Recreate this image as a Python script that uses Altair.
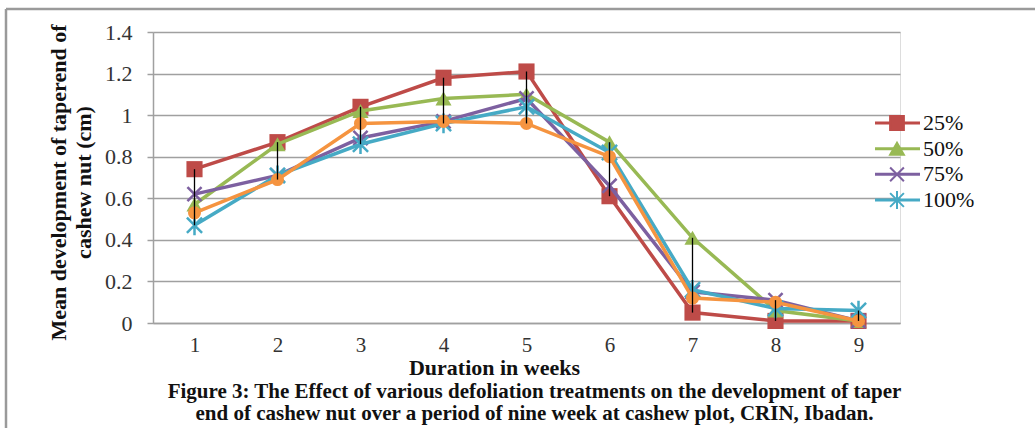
import altair as alt
import pandas as pd

weeks = [1, 2, 3, 4, 5, 6, 7, 8, 9]
series_names = ["25%", "50%", "75%", "100%", "0%"]
legend_names = ["25%", "50%", "75%", "100%"]
values_25 = [0.74, 0.87, 1.04, 1.18, 1.21, 0.61, 0.05, 0.01, 0.01]
values_50 = [0.57, 0.86, 1.02, 1.08, 1.10, 0.87, 0.41, 0.06, 0.01]
values_75 = [0.62, 0.71, 0.89, 0.97, 1.08, 0.66, 0.15, 0.11, 0.01]
values_100 = [0.47, 0.71, 0.86, 0.96, 1.04, 0.82, 0.16, 0.07, 0.06]
values_0 = [0.53, 0.69, 0.96, 0.97, 0.96, 0.80, 0.12, 0.10, 0.01]
series_values = [values_25, values_50, values_75, values_100, values_0]
y_ticks = [0, 0.2, 0.4, 0.6, 0.8, 1, 1.2, 1.4]

colors = ["#BE4B48", "#98B954", "#7D60A0", "#46AAC5", "#F59440"]
shapes = ["square", "triangle-up", "M-1,-1L1,1M-1,1L1,-1",
          "M-1,-1L1,1M-1,1L1,-1M0,-1.3L0,1.3", "circle"]
filled = [True, True, False, False, True]
sizes = [260, 260, 200, 230, 170]

rows = []
for name, vals in zip(series_names, series_values):
    for w, v in zip(weeks, vals):
        rows.append({"series": name, "week": w, "value": v})
df = pd.DataFrame(rows)

serif = "Liberation Serif"

x_enc = alt.X(
    "week:O",
    scale=alt.Scale(type="point", padding=0.5),
    axis=alt.Axis(
        title="Duration in weeks", labelAngle=0, ticks=False, grid=False,
        domainColor="#A0A0A0", domainWidth=1.5,
        labelFont=serif, labelFontSize=21, labelColor="#333333", labelPadding=11,
        titleFont=serif, titleFontSize=22, titleFontWeight="bold", titleColor="#111111",
        titleX=341, titleY=44, titleBaseline="middle", titleAnchor="start", titleAlign="center",
    ),
)
y_enc = alt.Y(
    "value:Q",
    scale=alt.Scale(domain=[0, 1.4]),
    axis=alt.Axis(
        title=["Mean development of taperend of", "cashew  nut (cm)"],
        values=y_ticks, format="~g",
        grid=True, gridColor="#A0A0A0", gridWidth=1.5,
        domainColor="#A0A0A0", domainWidth=1.5,
        ticks=True, tickSize=6, tickColor="#A0A0A0", tickWidth=1.5,
        labelFont=serif, labelFontSize=22, labelColor="#333333", labelPadding=15,
        titleFont=serif, titleFontSize=22, titleFontWeight="bold", titleColor="#111111",
        titleLineHeight=25, titleAngle=-90, titleX=-88, titleY=150,
        titleAlign="center", titleBaseline="alphabetic",
    ),
)

main_layers = []
for i, name in enumerate(series_names):
    sub = df[df["series"] == name]
    base = alt.Chart(sub)
    main_layers.append(
        base.mark_line(color=colors[i], strokeWidth=3.5).encode(x=x_enc, y=y_enc)
    )
    if filled[i]:
        pt = base.mark_point(shape=shapes[i], filled=True, color=colors[i],
                             size=sizes[i], opacity=1)
    else:
        pt = base.mark_point(shape=shapes[i], filled=False, color=colors[i],
                             size=sizes[i], strokeWidth=2.5, opacity=1)
    main_layers.append(pt.encode(x=x_enc, y=y_enc))

hilo = alt.Chart(df).mark_rule(color="black", strokeWidth=1.3).encode(
    x=x_enc, y=alt.Y("max(value):Q"), y2=alt.Y2("min(value)")
)
main_layers.append(hilo)

frame_df = pd.DataFrame({"k": [0]})
frame_top = alt.Chart(frame_df).mark_rule(color="#9A9A9A", strokeWidth=2.5).encode(
    x=alt.value(-147), x2=alt.value(882), y=alt.value(-23)
)
frame_left = alt.Chart(frame_df).mark_rule(color="#9A9A9A", strokeWidth=2.5).encode(
    x=alt.value(-147), y=alt.value(-23), y2=alt.value(396)
)
main_layers += [frame_top, frame_left]

main = alt.layer(*main_layers)

legend_df = pd.DataFrame({"series": legend_names})
ly = alt.Y("series:N", scale=alt.Scale(type="point", domain=legend_names,
                                        range=[91, 168], padding=0), axis=None)
lcolor = alt.Scale(domain=legend_names, range=colors[:4])
leg_line = alt.Chart(legend_df).mark_rule(strokeWidth=3).encode(
    x=alt.value(722), x2=alt.value(767), y=ly,
    color=alt.Color("series:N", scale=lcolor, legend=None),
)
leg_pts = alt.Chart(legend_df).mark_point(filled=True, strokeWidth=2, size=190, opacity=1).encode(
    x=alt.value(744), y=ly,
    fill=alt.Fill("series:N", scale=lcolor, legend=None),
    stroke=alt.Stroke("series:N", scale=lcolor, legend=None),
    shape=alt.Shape("series:N", scale=alt.Scale(domain=legend_names, range=shapes[:4]), legend=None),
)
leg_text = alt.Chart(legend_df).mark_text(
    align="left", baseline="middle", font=serif, fontSize=22, color="#111111"
).encode(x=alt.value(770), y=ly, text="series:N")
legend = alt.layer(leg_line, leg_pts, leg_text)

chart = alt.layer(main, legend).resolve_scale(y="independent").properties(
    width=747, height=291,
    padding={"left": 153, "top": 32, "right": 135, "bottom": 105},
    autosize=alt.AutoSizeParams(type="none"),
    title=alt.TitleParams(
        text=["Figure  3: The Effect of various defoliation treatments on the development of taper",
              "end of cashew nut over a period of nine week  at cashew plot, CRIN, Ibadan."],
        orient="bottom", anchor="middle", font=serif, fontSize=21, fontWeight="bold",
        color="#111111", lineHeight=22, offset=-48, dx=8,
    ),
).configure_view(stroke=None).configure(background="white")

chart.save("out.html", embed_options={"renderer": "svg", "actions": False})
